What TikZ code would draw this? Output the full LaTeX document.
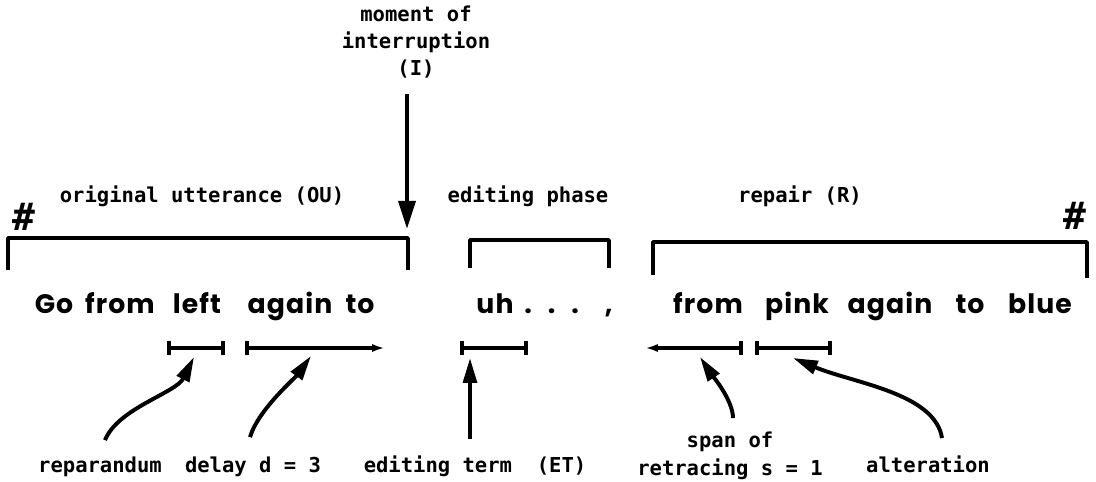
\documentclass[tikz,border=0pt]{standalone}
\usepackage{fontspec}
\usetikzlibrary{arrows.meta,calc}

\newfontfamily\labelfont{DejaVu Sans Mono}
\newfontfamily\wordfont{Poppins}[LetterSpace=4]

\tikzset{
    lbl/.style={font=\labelfont\bfseries\fontsize{14.6}{19.5}\selectfont, inner sep=0pt, align=center},
    word/.style={font=\wordfont\bfseries\fontsize{19}{22}\selectfont, inner sep=0pt, anchor=base},
    hashmark/.style={font=\labelfont\bfseries\fontsize{27}{27}\selectfont, inner sep=0pt},
    brkt/.style={line width=2.6pt, line join=round},
    spanbar/.style={line width=2.6pt, {Bar[width=0.33cm]}-{Bar[width=0.33cm]}},
    pointer/.style={line width=2.8pt, -{Triangle[length=0.62cm, width=0.34cm]}},
}

\begin{document}
\begin{tikzpicture}[x=0.025cm, y=-0.025cm]
    \useasboundingbox (0,0) rectangle (1096,481);

    % moment of interruption
    \node[lbl] (moment) at (416,42) {moment of\\interruption\\(I)};
    \coordinate (I-tip) at (407,229);
    \draw[pointer, -{Triangle[length=0.7cm, width=0.42cm]}] ($(I-tip |- moment.south)+(0,15)$) -- (I-tip);

    % phases
    \node[hashmark] (hash-l) at (24,217) {\#};
    \node[hashmark] (hash-r) at (1075,216) {\#};
    \node[lbl, anchor=base] (ou) at (202,202) {original utterance (OU)};
    \node[lbl, anchor=base] (phase) at (528,202) {editing phase};
    \node[lbl, anchor=base] (repair) at (800,202) {repair (R)};
    \draw[brkt] (8,270) |- (408,238) -- (408,270);
    \draw[brkt] (470,268) |- (609,240) -- (609,268);
    \draw[brkt] (653,275) |- (1087,242) -- (1087,278);

    % the utterance
    \node[word] (w1) at (54,313) {Go};
    \node[word] (w2) at (120,313) {from};
    \node[word] (w3) at (197,313) {left};
    \node[word] (w4) at (290,313) {again};
    \node[word] (w5) at (360,313) {to};
    \node[word] (w6) at (495,313) {uh};
    \node[word, anchor=base west] (w7) at (524,313) {.\hspace{0.4cm}.\hspace{0.4cm}.\hspace{0.65cm},};
    \node[word] (w8) at (708,313) {from};
    \node[word] (w9) at (797,313) {pink};
    \node[word] (w10) at (890,313) {again};
    \node[word] (w11) at (970,313) {to};
    \node[word] (w12) at (1040,313) {blue};

    % spans
    \draw[spanbar] (167,348) -- (225,348);
    \draw[line width=2.6pt, {Bar[width=0.33cm]}-{Latex[length=0.32cm, width=0.2cm]}] (245,348) -- (385,348);
    \draw[spanbar] (460,348) -- (528,348);
    \draw[line width=2.6pt, {Latex[length=0.32cm, width=0.2cm]}-{Bar[width=0.33cm]}] (645,348) -- (743,348);
    \draw[spanbar] (755,348) -- (832,348);

    % labels below
    \node[lbl, anchor=base] (rep) at (100,472) {reparandum};
    \node[lbl, anchor=base] (delay) at (253,472) {delay d = 3};
    \node[lbl, anchor=base] (et) at (475,472) {editing term\ \ (ET)};
    \node[lbl] (retr) at (730,456) {span of\\retracing s = 1};
    \node[lbl, anchor=base] (alt) at (928,472) {alteration};

    \coordinate (rep-tip) at (194,357);
    \coordinate (delay-tip) at (311,356);
    \coordinate (et-tip) at (470,358);
    \coordinate (retr-tip) at (700,357);
    \coordinate (alt-tip) at (793,358);

    \draw[pointer] ($(rep.north)+(5,-16)$) .. controls +(13,-32) and +(-18,36) .. (rep-tip);
    \draw[pointer] ($(delay.north)+(-3,-19)$) .. controls +(8,-27) and +(-16,22) .. (delay-tip);
    \draw[pointer] ($(et-tip |- et.north)+(0,-16)$) -- (et-tip);
    \draw[pointer] ($(retr.north)+(3,-14)$) .. controls +(0,-18) and +(12,18) .. (retr-tip);
    \draw[pointer] ($(alt.north)+(14,-17)$) .. controls +(-7,-45) and +(60,25) .. (alt-tip);
\end{tikzpicture}
\end{document}
